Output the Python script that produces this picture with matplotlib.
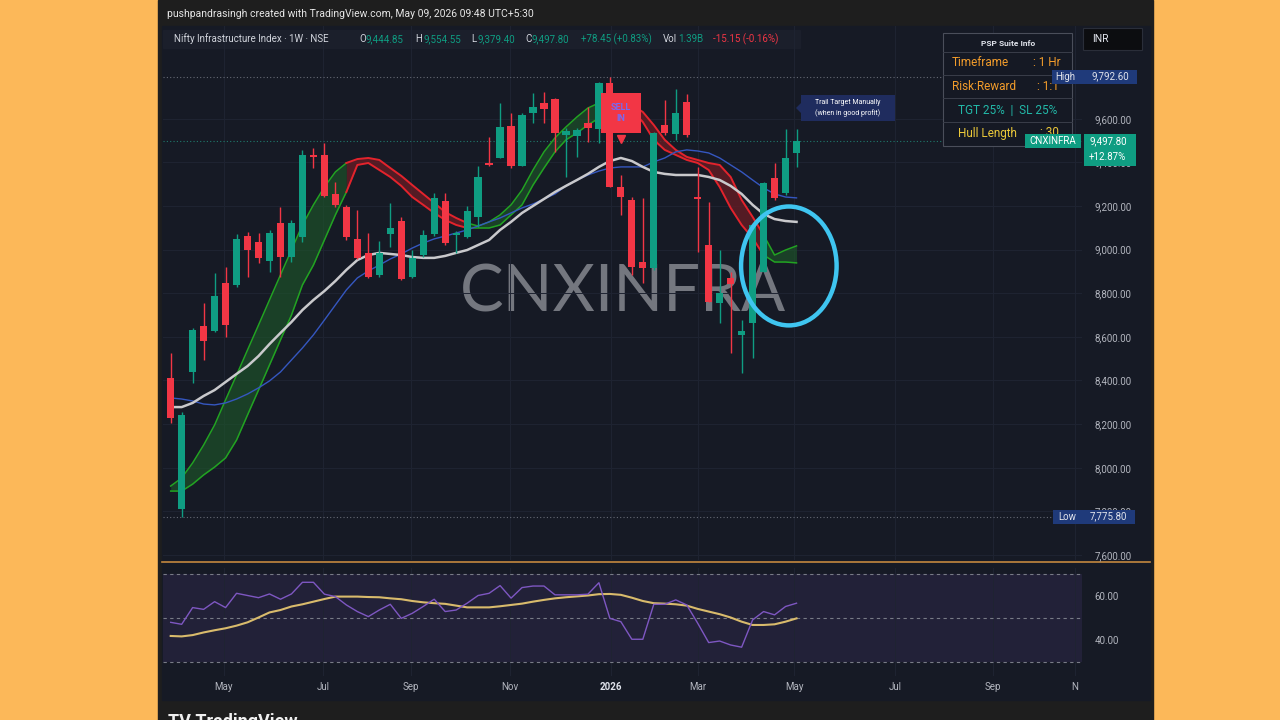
import matplotlib
matplotlib.use("Agg")
import matplotlib.pyplot as plt
import matplotlib.transforms as mtransforms
from matplotlib.patches import Rectangle, Ellipse, Polygon

# ---- weekly candles (CNXINFRA, 1W) ----
opens = [8411, 7811, 8439, 8650, 8627, 8847, 8838, 9062, 9035, 8948,
         9122, 8966, 9058, 9434, 9434, 9255, 9195, 9049, 8985, 8884,
         9072, 9131, 8874, 8975, 9072, 9223, 9068, 9058, 9150, 9397,
         9420, 9567, 9383, 9626, 9672, 9691, 9526, 9521, 9580, 9553,
         9764, 9287, 9228, 8943, 8916, 9571, 9530, 9677, 9241, 9021,
         8755, 8870, 8609, 8664, 8897, 9328, 9260, 9444.85]
highs = [8526, 8255, 8641, 8755, 8893, 8920, 9072, 9081, 9076, 9090,
         9195, 9136, 9457, 9466, 9489, 9310, 9205, 9182, 9076, 9040,
         9214, 9150, 8998, 9090, 9260, 9260, 9085, 9200, 9383, 9516,
         9672, 9626, 9626, 9718, 9723, 9695, 9558, 9558, 9654, 9769,
         9792.6, 9342, 9240, 9237, 9539, 9686, 9736, 9713, 9379, 9218,
         8998, 8897, 8677, 9122, 9310, 9397, 9553, 9554.55]
lows = [8205, 7775.8, 8388, 8494, 8622, 8599, 8829, 8874, 8939, 8897,
        8874, 8943, 9035, 9374, 9240, 9195, 9044, 8955, 8870, 8874,
        9012, 8861, 8870, 8966, 9062, 9021, 8985, 9053, 9104, 9383,
        9420, 9374, 9383, 9580, 9580, 9448, 9333, 9425, 9493, 9489,
        9287, 9159, 8884, 8847, 8907, 9526, 9503, 9516, 8989, 8760,
        8664, 8526, 8434, 8503, 8897, 9228, 9250, 9379.40]
closes = [8228, 8242, 8631, 8581, 8787, 8654, 9049, 8998, 8962, 9076,
          8966, 9122, 9434, 9425, 9246, 9205, 9058, 8962, 8874, 8985,
          9099, 8865, 8962, 9067, 9237, 9030, 9076, 9177, 9333, 9388,
          9562, 9383, 9617, 9654, 9645, 9535, 9544, 9548, 9558, 9764,
          9287, 9241, 8920, 8916, 9535, 9535, 9626, 9526, 9232, 8760,
          8801, 8842, 8627, 9113, 9305, 9237, 9419.35, 9497.80]

# hull band (two lines) and its direction per bar
hull_upper = [7916, 7953, 8022, 8104, 8196, 8311, 8425, 8540, 8654, 8769,
              8884, 8998, 9113, 9205, 9287, 9356, 9397, 9415, 9420, 9411,
              9374, 9338, 9296, 9255, 9214, 9172, 9145, 9122, 9108, 9127,
              9159, 9205, 9273, 9365, 9448, 9512, 9562, 9608, 9649, 9672,
              9677, 9672, 9663, 9631, 9571, 9503, 9457, 9425, 9411, 9397,
              9388, 9333, 9228, 9150, 9067, 8975, 8998, 9017]
hull_lower = [7893, 7893, 7925, 7967, 8003, 8045, 8127, 8242, 8356, 8471,
              8586, 8700, 8838, 8929, 9044, 9159, 9264, 9388, 9397, 9365,
              9333, 9292, 9241, 9205, 9168, 9136, 9113, 9099, 9099, 9099,
              9113, 9159, 9205, 9296, 9374, 9448, 9503, 9535, 9571, 9603,
              9649, 9649, 9640, 9585, 9503, 9457, 9434, 9411, 9397, 9365,
              9287, 9191, 9113, 9053, 8975, 8943, 8943, 8939]
hull_rising = [1, 1, 1, 1, 1, 1, 1, 1, 1, 1, 1, 1, 1, 1, 1, 1, 1,
               0, 0, 0, 0, 0, 0, 0, 0, 0, 0, 0,
               1, 1, 1, 1, 1, 1, 1, 1, 1, 1, 1, 1,
               0, 0, 0, 0, 0, 0, 0, 0, 0, 0, 0, 0, 0, 0, 0,
               1, 1, 1]

ma_white = [8278, 8278, 8297, 8329, 8356, 8393, 8430, 8466, 8512, 8567,
            8618, 8668, 8723, 8769, 8810, 8856, 8907, 8952, 8975, 8985,
            8980, 8975, 8966, 8962, 8962, 8971, 8985, 8998, 9021, 9044,
            9090, 9127, 9168, 9200, 9232, 9264, 9292, 9319, 9347, 9379,
            9406, 9420, 9406, 9379, 9356, 9347, 9342, 9342, 9342, 9333,
            9319, 9292, 9255, 9205, 9163, 9140, 9131, 9127]
ma_blue = [8320, 8315, 8306, 8292, 8288, 8297, 8315, 8338, 8366, 8398,
           8439, 8494, 8549, 8609, 8677, 8746, 8815, 8870, 8902, 8929,
           8957, 8980, 9007, 9030, 9049, 9062, 9076, 9090, 9108, 9127,
           9145, 9168, 9191, 9209, 9232, 9255, 9292, 9319, 9342, 9360,
           9374, 9379, 9379, 9379, 9402, 9420, 9448, 9457, 9452, 9443,
           9420, 9388, 9356, 9319, 9283, 9255, 9241, 9237]

rsi = [48.0, 47.1, 54.7, 53.9, 57.4, 54.7, 61.2, 60.2, 59.2, 60.9,
       58.5, 60.9, 66.2, 66.2, 60.8, 59.7, 55.9, 52.9, 50.6, 53.6,
       56.2, 49.8, 52.1, 55.2, 58.5, 52.9, 53.6, 56.7, 60.2, 61.2,
       64.7, 59.0, 63.8, 64.5, 64.5, 60.5, 60.5, 60.5, 60.8, 66.0,
       49.8, 48.3, 40.3, 40.3, 56.2, 56.2, 58.2, 55.9, 47.6, 38.8,
       39.5, 37.7, 36.7, 49.1, 52.9, 51.4, 55.2, 56.7]
rsi_ma = [41.8, 41.6, 42.2, 43.4, 44.4, 45.3, 46.5, 48.0, 50.2, 52.5,
          53.6, 55.2, 56.2, 57.4, 58.6, 59.7, 59.7, 59.7, 59.5, 59.4,
          58.9, 58.5, 57.7, 57.1, 56.7, 56.4, 55.6, 54.8, 54.8, 54.8,
          55.3, 55.9, 56.5, 57.4, 58.2, 58.9, 59.4, 59.8, 60.2, 60.8,
          60.9, 60.5, 59.2, 57.7, 56.7, 56.5, 56.2, 55.6, 54.1, 52.9,
          51.7, 50.2, 48.3, 46.8, 46.8, 47.1, 48.3, 49.8]

month_pos = [4.85, 13.87, 21.88, 30.9, 40.09, 48.0, 56.8, 65.96, 74.9, 82.35]
month_lbl = ["May", "Jul", "Sep", "Nov", "2026", "Mar", "May", "Jul", "Sep", "N"]
price_ticks = [7600, 7800, 8000, 8200, 8400, 8600, 8800, 9000, 9200, 9400, 9600]
rsi_ticks = [40, 60]

high_val = 9792.60
low_val = 7775.80
last_close = 9497.80

UP = '#0f9d82'
DOWN = '#f23645'
TXT = '#b2b5be'
PANE = '#161a25'

plt.rcParams['font.family'] = ['Roboto', 'DejaVu Sans']

W, H = 1280, 720


def fx(px):
    return px / W


def fy(py):
    return 1 - py / H


fig = plt.figure(figsize=(12.8, 7.2), dpi=100)
fig.patch.set_facecolor('#fcb859')

# screenshot frame + chart pane
fig.add_artist(Rectangle((fx(158), 0), fx(1153) - fx(158), 1, transform=fig.transFigure,
                         color='#1e1e1e', zorder=-10))
fig.add_artist(Rectangle((fx(162), fy(700)), fx(1150) - fx(162), (700 - 26) / H,
                         transform=fig.transFigure, color=PANE, zorder=-9))
fig.add_artist(Rectangle((fx(163), fy(48)), fx(800) - fx(163), 18 / H,
                         transform=fig.transFigure, color='#1b1f2b', zorder=-8))
# pane separator
fig.add_artist(plt.Line2D([fx(162), fx(1150)], [fy(562), fy(562)], transform=fig.transFigure,
                          color='#c4883f', lw=1.2, zorder=-7))

# ---------------- main price pane ----------------
ax = fig.add_axes([fx(163), fy(560), (1082 - 163) / W, (560 - 26) / H])
ax.set_facecolor('none')
n = len(closes)
xs = list(range(n))
ax.set_xlim(-0.7, 83.0)
ax.set_ylim(7577, 10025)
for s in ax.spines.values():
    s.set_visible(False)
ax.yaxis.tick_right()
ax.set_yticks(price_ticks)
ax.set_yticklabels([f"{v:,.2f}" for v in price_ticks])
ax.set_xticks(month_pos)
ax.set_xticklabels([])
ax.tick_params(axis='both', length=0)
ax.tick_params(axis='y', pad=9, labelsize=7, labelcolor=TXT)
ax.grid(True, color='#1f2432', lw=0.7)
ax.set_axisbelow(True)

# watermark
ax.text(0.5, 0.5, "CNXINFRA", transform=ax.transAxes, ha='center', va='center',
        fontsize=47, color='#74777f', family=['Lato', 'DejaVu Sans'], zorder=0.5)

# high / low / last price lines
ax.axhline(high_val, color='#666a75', lw=0.8, ls=(0, (1, 2)), zorder=1)
ax.axhline(low_val, color='#666a75', lw=0.8, ls=(0, (1, 2)), zorder=1)
ax.axhline(last_close, color='#1f7a6c', lw=0.8, ls=(0, (1, 2)), zorder=1)

# hull band, coloured by direction
start = 0
for i in range(1, n + 1):
    if i == n or hull_rising[i] != hull_rising[start]:
        a = max(start - 1, 0)
        seg = xs[a:i]
        up = hull_upper[a:i]
        lo = hull_lower[a:i]
        if hull_rising[start]:
            ax.fill_between(seg, up, lo, color='#1d5a2a', alpha=0.6, lw=0, zorder=2)
            ax.plot(seg, up, color='#22a322', lw=1.1, zorder=2.1)
            ax.plot(seg, lo, color='#22a322', lw=1.1, zorder=2.1)
        else:
            ax.fill_between(seg, up, lo, color='#6a1c24', alpha=0.75, lw=0, zorder=2)
            ax.plot(seg, up, color='#e3232c', lw=1.4, zorder=2.1)
            ax.plot(seg, lo, color='#e3232c', lw=1.4, zorder=2.1)
        start = i

ax.plot(xs, ma_blue, color='#3557c0', lw=1.0, zorder=2.5)
ax.plot(xs, ma_white, color='#c9c9cc', lw=1.8, zorder=2.6)

# candles
cols = [UP if c >= o else DOWN for o, c in zip(opens, closes)]
ax.vlines(xs, lows, highs, colors=cols, lw=1.0, zorder=3)
bottoms = [min(o, c) for o, c in zip(opens, closes)]
heights = [max(abs(c - o), 6) for o, c in zip(opens, closes)]
ax.bar(xs, heights, bottom=bottoms, width=0.66, color=cols, lw=0, zorder=3.1)

# SELL label on the top bar
ax.text(41, 9627, "SELL\nIN", ha='center', va='center', fontsize=6.5, color='#7b68ee',
        linespacing=1.25, zorder=4, fontweight='bold',
        bbox=dict(boxstyle='square,pad=1.1', fc=DOWN, ec='none'))
ax.plot([41], [9508], marker='v', ms=6, color=DOWN, zorder=4)

# hand drawn loop
ax.add_patch(Ellipse((56.3, 8925), 8.7, 545, fill=False, ec='#3fc5f0', lw=3.2, zorder=5))

# ---------------- RSI pane ----------------
ax_rsi = fig.add_axes([fx(163), fy(676), (1082 - 163) / W, (676 - 568) / H])
ax_rsi.set_facecolor('none')
for s in ax_rsi.spines.values():
    s.set_visible(False)
ax_rsi.set_xlim(-0.7, 83.0)
ax_rsi.set_ylim(23.6, 72.7)
ax_rsi.axhspan(30, 70, color='#7e57c2', alpha=0.12, lw=0)
for lvl in (70, 50, 30):
    ax_rsi.axhline(lvl, color='#787b86', lw=0.8, ls=(0, (3, 3)))
ax_rsi.plot(xs, rsi_ma, color='#d9bb6c', lw=1.5)
ax_rsi.plot(xs, rsi, color='#7e57c2', lw=1.0)
ax_rsi.yaxis.tick_right()
ax_rsi.set_yticks(rsi_ticks)
ax_rsi.set_yticklabels([f"{v:.2f}" for v in rsi_ticks])
ax_rsi.set_xticks(month_pos)
ax_rsi.set_xticklabels(month_lbl)
ax_rsi.tick_params(axis='both', length=0, labelsize=7, labelcolor=TXT)
ax_rsi.tick_params(axis='y', pad=9)
ax_rsi.tick_params(axis='x', pad=4)
ax_rsi.grid(True, axis='x', color='#1f2432', lw=0.7)
for t in ax_rsi.get_xticklabels():
    if t.get_text() == "2026":
        t.set_fontweight('bold')
        t.set_color('#e0e3eb')

# ---------------- header texts ----------------
fig.text(fx(167), fy(14), "pushpandrasingh created with TradingView.com, May 09, 2026 09:48 UTC+5:30",
         fontsize=7.5, color='#e6e6e6', va='center')
hdr = [(174, "Nifty Infrastructure Index · 1W · NSE", '#d1d4dc'),
       (359, "O", '#d1d4dc'), (366, "9,444.85", UP),
       (415, "H", '#d1d4dc'), (423, "9,554.55", UP),
       (471, "L", '#d1d4dc'), (477, "9,379.40", UP),
       (525, "C", '#d1d4dc'), (532, "9,497.80", UP),
       (581, "+78.45 (+0.83%)", UP),
       (663, "Vol", '#d1d4dc'), (678, "1.39B", UP),
       (713, "-15.15 (-0.16%)", DOWN)]
for px, s, c in hdr:
    fig.text(fx(px), fy(39), s, fontsize=7, color=c, va='center')

# INR box
fig.add_artist(Rectangle((fx(1083), fy(50)), fx(1142) - fx(1083), 22 / H, transform=fig.transFigure,
                         fc='#0c0d10', ec='#2a2e39', lw=0.8, zorder=5))
fig.text(fx(1092), fy(39), "INR", fontsize=7.5, color='#e0e3eb', va='center', zorder=6)

# PSP Suite Info table
fig.add_artist(Rectangle((fx(943), fy(146)), fx(1072) - fx(943), (146 - 33) / H,
                         transform=fig.transFigure, fc='#151924', ec='#4a4e5a', lw=0.8, zorder=5))
for yl in (52, 75, 98, 122):
    fig.add_artist(plt.Line2D([fx(943), fx(1072)], [fy(yl), fy(yl)], transform=fig.transFigure,
                              color='#3a3e4a', lw=0.7, zorder=5))
fig.text(fx(1008), fy(43), "PSP Suite Info", fontsize=6, color='#e0e3eb', ha='center', va='center',
         fontweight='bold', zorder=6)
fig.text(fx(952), fy(63), "Timeframe", fontsize=8.5, color='#f29c2b', va='center', zorder=6)
fig.text(fx(1033), fy(63), ": 1 Hr", fontsize=8.5, color='#f29c2b', va='center', zorder=6)
fig.text(fx(952), fy(87), "Risk:Reward", fontsize=8.5, color='#f29c2b', va='center', zorder=6)
fig.text(fx(1037), fy(87), ": 1:1", fontsize=8.5, color='#f29c2b', va='center', zorder=6)
fig.text(fx(1008), fy(110), "TGT 25%  |  SL 25%", fontsize=8.5, color='#22b8a8', ha='center',
         va='center', zorder=6)
fig.text(fx(958), fy(133), "Hull Length", fontsize=8.5, color='#ecc93a', va='center', zorder=6)
fig.text(fx(1040), fy(133), ": 30", fontsize=8.5, color='#ecc93a', va='center', zorder=6)

# price-scale tags (y follows the price axis)
tr = mtransforms.blended_transform_factory(fig.transFigure, ax.transData)
tag_h = 64
fig.add_artist(Rectangle((fx(1052), high_val - tag_h / 2), fx(1137) - fx(1052), tag_h,
                         transform=tr, fc='#1f3a7a', ec='none', zorder=7))
fig.text(fx(1055), high_val, "High", transform=tr, fontsize=7, color='#e0e3eb', va='center', zorder=8)
fig.text(fx(1092), high_val, f"{high_val:,.2f}", transform=tr, fontsize=7, color='#e0e3eb',
         va='center', zorder=8)
fig.add_artist(Rectangle((fx(1053), low_val - tag_h / 2), fx(1135) - fx(1053), tag_h,
                         transform=tr, fc='#1f3a7a', ec='none', zorder=7))
fig.text(fx(1058), low_val, "Low", transform=tr, fontsize=7, color='#e0e3eb', va='center', zorder=8)
fig.text(fx(1090), low_val, f"{low_val:,.2f}", transform=tr, fontsize=7, color='#e0e3eb',
         va='center', zorder=8)
fig.add_artist(Rectangle((fx(1025), last_close - tag_h / 2), fx(1081) - fx(1025), tag_h,
                         transform=tr, fc=UP, ec='none', zorder=7))
fig.text(fx(1053), last_close, "CNXINFRA", transform=tr, fontsize=7, color='white', ha='center',
         va='center', zorder=8)
fig.add_artist(Rectangle((fx(1084), last_close - 115), fx(1136) - fx(1084), 147,
                         transform=tr, fc=UP, ec='none', zorder=7))
fig.text(fx(1089), last_close, f"{last_close:,.2f}", transform=tr, fontsize=7, color='white',
         va='center', zorder=8)
fig.text(fx(1089), last_close - 72, "+12.87%", transform=tr, fontsize=7, color='white',
         va='center', zorder=8)

# trail target note
fig.add_artist(Rectangle((fx(801), fy(121)), fx(895) - fx(801), 26 / H, transform=fig.transFigure,
                         fc='#1f2c5e', ec='none', zorder=6))
fig.add_artist(Polygon([[fx(801), fy(103)], [fx(796), fy(108)], [fx(801), fy(113)]],
                       closed=True, transform=fig.transFigure, fc='#1f2c5e', ec='none', zorder=6))
fig.text(fx(848), fy(102), "Trail Target Manually", fontsize=5, color='white', ha='center',
         va='center', zorder=7)
fig.text(fx(848), fy(113), "(when in good profit)", fontsize=5, color='white', ha='center',
         va='center', zorder=7)

# bottom strip logo, cut off by the frame
fig.text(fx(168), fy(713), "TV TradingView", fontsize=13, fontweight='bold', color='#f0f0f0',
         va='top')

fig.savefig("out.png", dpi=100, facecolor=fig.get_facecolor())
